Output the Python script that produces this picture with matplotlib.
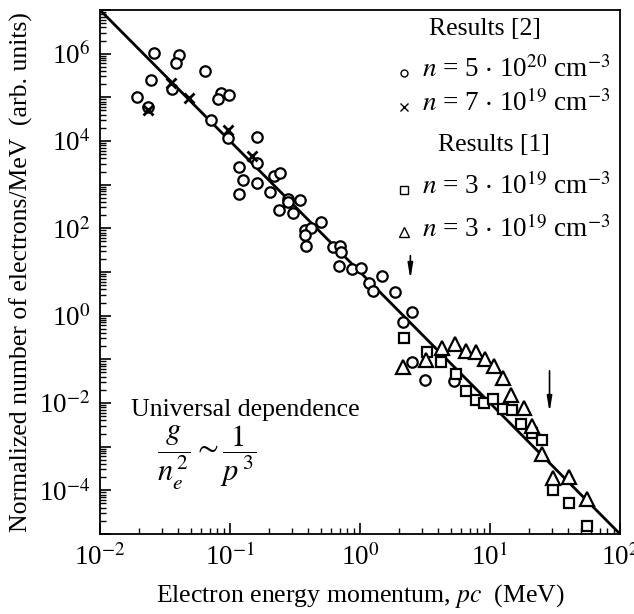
import numpy as np
import matplotlib
matplotlib.use("Agg")
import matplotlib.pyplot as plt
from matplotlib.ticker import LogLocator, FuncFormatter, NullFormatter

plt.rcParams['font.family'] = ['Liberation Serif', 'DejaVu Serif', 'DejaVu Sans']
plt.rcParams['mathtext.fontset'] = 'stix'

# ---- data ----
circ_x = [0.0260, 0.0406, 0.0385, 0.0646, 0.0245, 0.0358, 0.0191, 0.0847, 0.0977, 0.0813,
          0.0236, 0.0711, 0.0966, 0.160, 0.160, 0.117, 0.126, 0.160, 0.218, 0.243,
          0.117, 0.203, 0.279, 0.279, 0.345, 0.239, 0.303, 0.378, 0.420, 0.497,
          0.378, 0.381, 0.625, 0.702, 0.708, 0.692, 0.861, 1.01, 1.18, 1.26,
          1.47, 1.85, 2.50, 2.16, 2.50, 3.19, 5.27]
circ_y = [1.02e6, 9.3e5, 6.2e5, 4.0e5, 2.5e5, 1.55e5, 1.03e5, 1.24e5, 1.13e5, 9.0e4,
          5.9e4, 3.0e4, 1.15e4, 1.22e4, 3.2e3, 2.5e3, 1.28e3, 1.11e3, 1.61e3, 1.85e3,
          596, 690, 482, 401, 446, 259, 228, 94, 100, 140,
          70, 38.8, 36.5, 39.4, 28.3, 13.9, 11.6, 12.2, 5.5, 3.7,
          8.2, 3.4, 1.23, 0.70, 0.086, 0.033, 0.0324]

cross_x = [0.0350, 0.0484, 0.0236, 0.0966, 0.147]
cross_y = [2.16e5, 9.5e4, 5.1e4, 1.79e4, 4.5e3]

sq_x = [2.18, 3.25, 4.20, 5.43, 6.48, 7.80, 9.04, 10.6, 12.7, 14.8, 17.3, 21.1, 25.2, 30.3, 40.3, 56.2]
sq_y = [0.308, 0.150, 0.0883, 0.0467, 0.0188, 0.0120, 0.0101, 0.0122, 0.00738, 0.00675,
        0.00322, 0.00209, 0.00139, 1.02e-4, 5.2e-5, 1.53e-5]

tri_x = [2.15, 3.22, 4.25, 5.38, 6.53, 7.80, 9.16, 10.8, 12.7, 14.6, 18.3, 21.1, 25.3, 30.5, 40.3, 56.2]
tri_y = [0.068, 0.0966, 0.185, 0.222, 0.153, 0.150, 0.0993, 0.0697, 0.0374, 0.0153,
         0.00757, 0.00294, 6.9e-4, 1.89e-4, 2.02e-4, 6.4e-5]

fit_x = [1e-2, 1e2]
fit_y = [1e7, 1e-5]

arrow_x = [2.44, 28.7]
arrow_top = [27.3, 0.063]
arrow_tip = [5.9, 0.0053]

legend_labels = [r'$n$ = 5 $\cdot$ 10$^{20}$ cm$^{-3}$',
                 r'$n$ = 7 $\cdot$ 10$^{19}$ cm$^{-3}$',
                 r'$n$ = 3 $\cdot$ 10$^{19}$ cm$^{-3}$',
                 r'$n$ = 3 $\cdot$ 10$^{19}$ cm$^{-3}$']
legend_markers = ['o', 'x', 's', '^']
group_titles = ['Results [2]', 'Results [1]']

# ---- figure ----
fig = plt.figure(figsize=(6.34, 6.14), dpi=100)
ax = fig.add_axes([100/634, 80/614, 520/634, 524/614])
ax.set_xscale('log')
ax.set_yscale('log')
ax.set_xlim(1e-2, 1e2)
ax.set_ylim(1e-5, 1e7)

ax.plot(fit_x, fit_y, color='black', lw=2, zorder=2)
mk = dict(linestyle='none', markerfacecolor='white', markeredgecolor='black', markeredgewidth=1.6, zorder=3)
ax.plot(circ_x, circ_y, marker='o', markersize=7.5, **mk)
ax.plot(cross_x, cross_y, marker='x', markersize=7, linestyle='none', color='black', markeredgewidth=2, zorder=4)
ax.plot(sq_x, sq_y, marker='s', markersize=7, **mk)
ax.plot(tri_x, tri_y, marker='^', markersize=9.5, **mk)

for xa, yt, yh in zip(arrow_x, arrow_top, arrow_tip):
    ax.annotate('', xy=(xa, yh), xytext=(xa, yt),
                arrowprops=dict(arrowstyle='-|>,head_length=0.9,head_width=0.15', color='black', lw=1.2))

fs = 18.5
ax.tick_params(which='both', direction='in', top=False, right=False, labelsize=19.5)
ax.tick_params(which='major', length=8, width=1.2, pad=7)
ax.tick_params(which='minor', length=4, width=1)
ax.xaxis.set_major_locator(LogLocator(base=10, numticks=20))
ax.xaxis.set_minor_locator(LogLocator(base=10, subs=np.arange(2, 10), numticks=20))
ax.xaxis.set_minor_formatter(NullFormatter())
ax.yaxis.set_major_locator(LogLocator(base=10, numticks=30))
ax.yaxis.set_minor_locator(LogLocator(base=10, subs=np.arange(2, 10), numticks=30))
ax.yaxis.set_minor_formatter(NullFormatter())

def yfmt(v, pos):
    e = int(round(np.log10(v)))
    if e % 2:
        return ''
    return r'10$^{%d}$' % e

ax.xaxis.set_major_formatter(FuncFormatter(lambda v, p: r'10$^{%d}$' % int(round(np.log10(v)))))
ax.yaxis.set_major_formatter(FuncFormatter(yfmt))
for s in ax.spines.values():
    s.set_linewidth(1.3)

ax.set_xlabel(r'Electron energy momentum, $pc$  (MeV)', fontsize=fs, labelpad=8)
ax.set_ylabel('Normalized number of electrons/MeV  (arb. units)', fontsize=fs, labelpad=4)

# legend as text + markers
title_pos = [(0.740, 0.952), (0.758, 0.731)]
for (tx, ty), t in zip(title_pos, group_titles):
    ax.text(tx, ty, t, transform=ax.transAxes, ha='center', va='baseline', fontsize=fs)
entry_y = [0.872, 0.807, 0.648, 0.567]
marker_y = [0.880, 0.814, 0.657, 0.577]
marker_size = [5, 5.5, 6, 7]
for lbl, m, ey, my, ms in zip(legend_labels, legend_markers, entry_y, marker_y, marker_size):
    ax.text(0.619, ey, lbl, transform=ax.transAxes, ha='left', va='baseline', fontsize=19.5)
    ax.plot([0.585], [my], marker=m, markersize=ms, markerfacecolor='white', markeredgecolor='black',
            markeredgewidth=1.0, color='black', transform=ax.transAxes, clip_on=False, linestyle='none')

ax.text(0.279, 0.237, 'Universal dependence', transform=ax.transAxes, ha='center', va='center', fontsize=fs)
ax.text(0.206, 0.145, r'$\dfrac{g}{n_e^{\,2}} \sim \dfrac{1}{p^{\,3}}$', transform=ax.transAxes,
        ha='center', va='center', fontsize=22)

fig.savefig('out.png', dpi=100)
